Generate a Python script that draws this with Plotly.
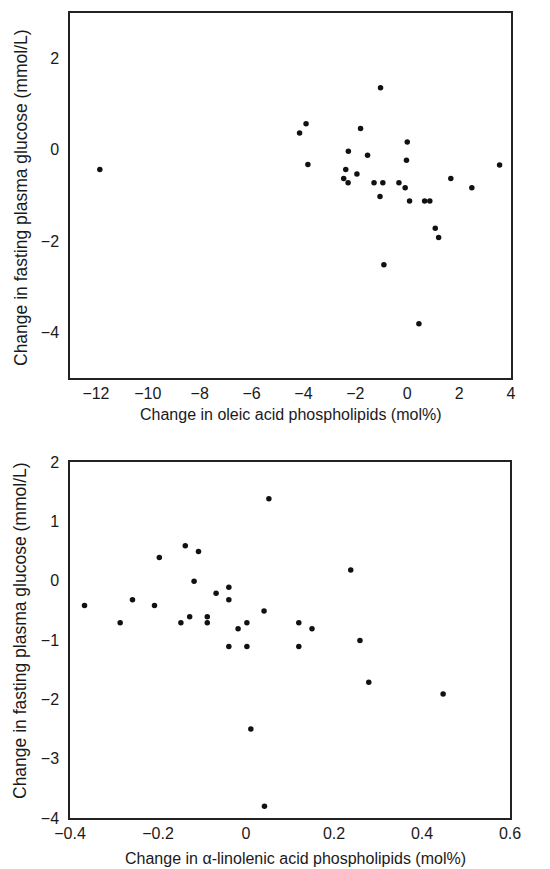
import plotly.graph_objects as go

# Top panel: change in oleic acid phospholipids vs change in fasting plasma glucose
oleic_x = [-11.85, -4.15, -3.9, -3.83, -1.03, -1.80, -2.27, -1.53, 0.0, -0.03,
           -2.37, -2.45, -2.28, -1.94, -1.28, -0.94, -1.05, -0.32, -0.08, 0.09,
           0.67, 0.87, 1.08, 1.21, -0.9, 0.45, 1.68, 2.49, 3.56]
oleic_y = [-0.43, 0.37, 0.57, -0.32, 1.36, 0.47, -0.03, -0.12, 0.17, -0.23,
           -0.43, -0.63, -0.72, -0.53, -0.72, -0.72, -1.02, -0.72, -0.83, -1.12,
           -1.12, -1.12, -1.72, -1.92, -2.52, -3.81, -0.63, -0.83, -0.33]

# Bottom panel: change in alpha-linolenic acid phospholipids
ala_x = [-0.367, -0.286, -0.258, -0.208, -0.197, -0.148, -0.138, -0.128, -0.118, -0.108,
         -0.088, -0.088, -0.068, -0.039, -0.039, -0.039, -0.018, 0.002, 0.002, 0.011,
         0.041, 0.042, 0.052, 0.12, 0.12, 0.15, 0.238, 0.259, 0.279, 0.448]
ala_y = [-0.42, -0.71, -0.32, -0.42, 0.39, -0.71, 0.59, -0.61, -0.01, 0.49,
         -0.61, -0.71, -0.21, -0.11, -0.32, -1.11, -0.81, -0.71, -1.11, -2.50,
         -0.51, -3.80, 1.38, -0.71, -1.11, -0.81, 0.18, -1.01, -1.71, -1.91]

top_xticks = [-12, -10, -8, -6, -4, -2, 0, 2, 4]
top_yticks = [-4, -2, 0, 2]
bot_xticks = [-0.4, -0.2, 0, 0.2, 0.4, 0.6]
bot_yticks = [-4, -3, -2, -1, 0, 1, 2]

def lab(v):
    s = ("%g" % v)
    return s.replace("-", "\u2212")

W, H = 550, 869
FONT = "Liberation Sans, Arial, sans-serif"
TXT = "#1a1a1a"
FS = 16
FSY = 17.5

fig = go.Figure()
mk = dict(size=5.5, color="#111111")
fig.add_trace(go.Scatter(x=oleic_x, y=oleic_y, mode="markers", marker=mk,
                         xaxis="x", yaxis="y", showlegend=False, cliponaxis=False))
fig.add_trace(go.Scatter(x=ala_x, y=ala_y, mode="markers", marker=mk,
                         xaxis="x2", yaxis="y2", showlegend=False, cliponaxis=False))

axcommon = dict(showgrid=False, zeroline=False, showline=True, mirror=True,
                linecolor="#222222", linewidth=1.5, ticks="", automargin=False,
                tickfont=dict(family=FONT, size=FS, color=TXT))

def ann(text, x, y, angle=0, size=FS):
    return dict(text=text, x=x / W, y=1 - y / H, xref="paper", yref="paper",
                showarrow=False, textangle=angle, xanchor="center", yanchor="middle",
                font=dict(family=FONT, size=size, color=TXT))

fig.update_layout(
    template="none",
    width=W, height=H, margin=dict(l=0, r=0, t=0, b=0, pad=0),
    paper_bgcolor="white", plot_bgcolor="white",
    xaxis=dict(axcommon, domain=[70 / W, 511 / W], range=[-13, 4], anchor="y",
               tickvals=top_xticks, ticktext=[lab(v) for v in top_xticks],
               ticklabelstandoff=0),
    yaxis=dict(axcommon, domain=[1 - 378 / H, 1 - 13 / H], range=[-5, 3], anchor="x",
               tickvals=top_yticks, ticktext=[lab(v) for v in top_yticks],
               ticklabelstandoff=6),
    xaxis2=dict(axcommon, domain=[70 / W, 510 / W], range=[-0.4, 0.6], anchor="y2",
                tickvals=bot_xticks, ticktext=[lab(v) for v in bot_xticks],
                ticklabelstandoff=0),
    yaxis2=dict(axcommon, domain=[1 - 818 / H, 1 - 462 / H], range=[-4, 2], anchor="x2",
                tickvals=bot_yticks, ticktext=[lab(v) for v in bot_yticks],
                ticklabelstandoff=6),
    annotations=[
        ann("Change in oleic acid phospholipids (mol%)", 291, 414),
        ann("Change in fasting plasma glucose (mmol/L)", 21, 198, -90, FSY),
        ann("Change in \u03b1-linolenic acid phospholipids (mol%)", 295, 858),
        ann("Change in fasting plasma glucose (mmol/L)", 20, 631, -90, FSY),
    ],
)

fig.write_html("out.html", config={"displayModeBar": False},
               post_script="document.body.style.margin='0';")
